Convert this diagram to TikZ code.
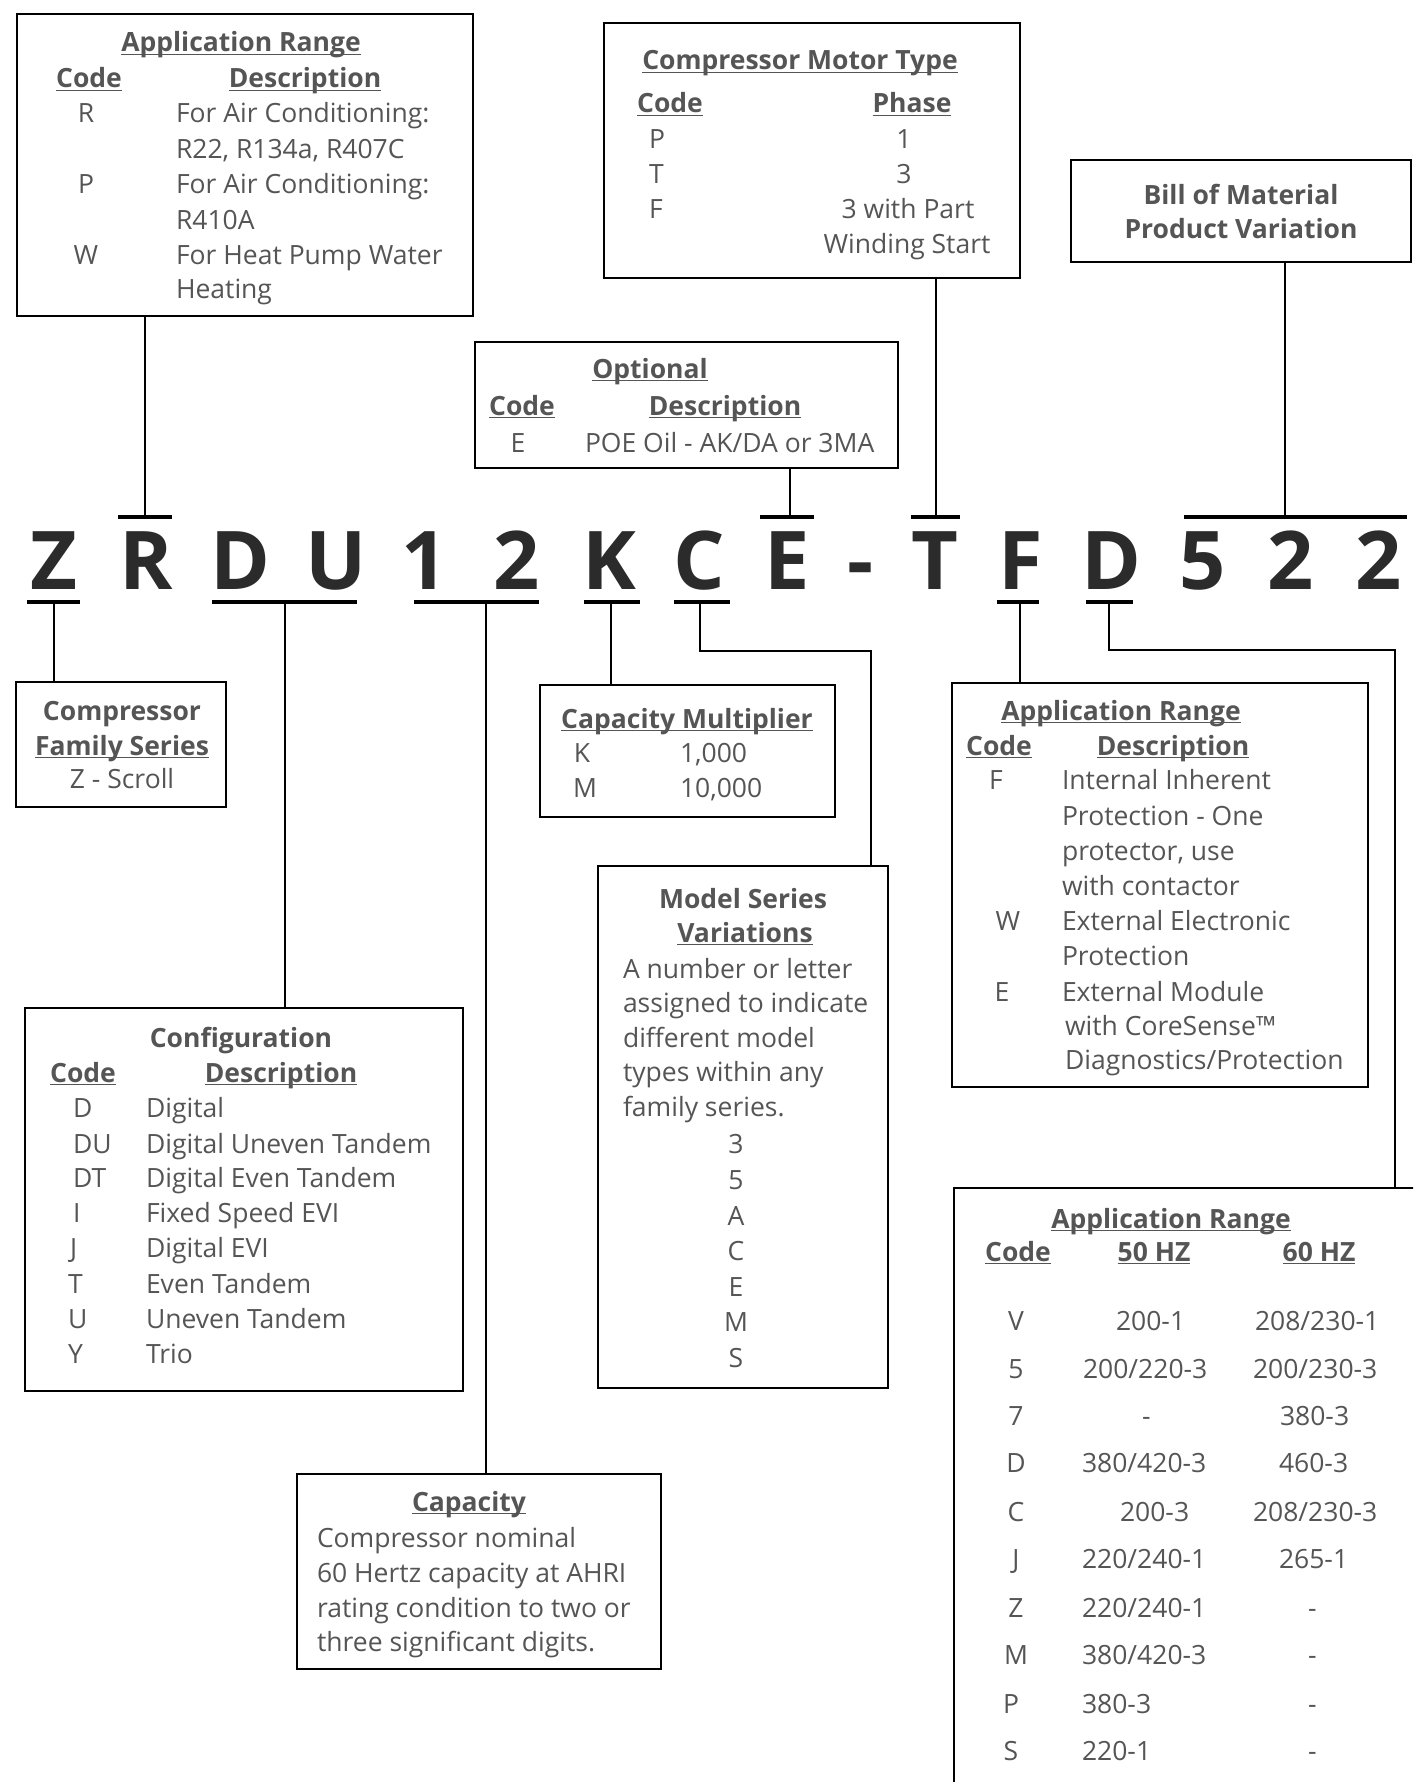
\documentclass[tikz,border=0pt]{standalone}
\usepackage{fontspec}
\setmainfont{Open Sans}
\definecolor{txtc}{HTML}{555555}
\definecolor{ltc}{HTML}{2B2B2B}
\newsavebox\ulbox
\newcommand\ulx[1]{\sbox\ulbox{#1}\rlap{\rule[-3pt]{\wd\ulbox}{1.4pt}}\usebox\ulbox}
\newcommand\bigletter[3]{\node[big] (#1) at (#2,589) {#3};}
\tikzset{
 boxst/.style={draw=black, line width=2.6pt, inner sep=0pt, outer sep=0pt, anchor=north west},
 conn/.style={line width=2.4pt, draw=black},
 barst/.style={line width=3.2pt, draw=black},
 tx/.style={inner sep=0pt, outer sep=0pt, text=txtc, font=\fontsize{26.5}{30}\selectfont, anchor=base},
 tl/.style={tx, anchor=base west},
 hd/.style={tx, font=\fontsize{26.5}{30}\selectfont\bfseries},
 big/.style={inner sep=0pt, outer sep=0pt, anchor=base, text=ltc, font=\fontsize{81}{81}\selectfont\bfseries},
}
\begin{document}
\begin{tikzpicture}[x=1pt,y=-1pt]
\clip (0,0) rectangle (1413,1782);
\fill[white] (0,0) rectangle (1413,1782);

% ---------------- boxes
\node[boxst, minimum width=456, minimum height=302] (appAC) at (17,14) {};
\node[boxst, minimum width=416, minimum height=255] (motor) at (604,23) {};
\node[boxst, minimum width=340, minimum height=102] (bill) at (1071,160) {};
\node[boxst, minimum width=423, minimum height=126] (opt) at (475,342) {};
\node[boxst, minimum width=210, minimum height=125] (fam) at (16,682) {};
\node[boxst, minimum width=295, minimum height=132] (mult) at (540,685) {};
\node[boxst, minimum width=290, minimum height=522] (model) at (598,866) {};
\node[boxst, minimum width=416, minimum height=404] (appF) at (952,683) {};
\node[boxst, minimum width=438, minimum height=383] (config) at (25,1008) {};
\node[boxst, minimum width=364, minimum height=195] (cap) at (297,1474) {};
\node[boxst, minimum width=600, minimum height=700] (appHz) at (954,1188) {};

% ---------------- big code letters
\bigletter{lZ}{54}{Z}
\bigletter{lR}{146}{R}
\bigletter{lD}{240}{D}
\bigletter{lU}{336}{U}
\bigletter{l1}{425}{1}
\bigletter{l2}{517}{2}
\bigletter{lK}{609}{K}
\bigletter{lC}{699}{C}
\bigletter{lE}{787}{E}
\bigletter{lh}{861}{-}
\bigletter{lT}{935}{T}
\bigletter{lF}{1021}{F}
\bigletter{lD2}{1111}{D}
\bigletter{l5}{1203}{5}
\bigletter{l22}{1291}{2}
\bigletter{l23}{1379}{2}

% ---------------- bars and connectors above
\coordinate (tR) at (145,517);
\coordinate (tE) at (790,517);
\coordinate (tT) at (936,517);
\coordinate (t522) at (1285,517);
\draw[barst] ([xshift=-27pt]tR) -- ([xshift=27pt]tR);
\draw[barst] ([xshift=-30pt]tE) -- ([xshift=24pt]tE);
\draw[barst] ([xshift=-25pt]tT) -- ([xshift=24pt]tT);
\draw[barst] ([xshift=-101pt]t522) -- ([xshift=122pt]t522);
\draw[conn] (appAC.south -| tR) -- (tR);
\draw[conn] (opt.south -| tE) -- (tE);
\draw[conn] (motor.south -| tT) -- (tT);
\draw[conn] (bill.south -| t522) -- (t522);

% ---------------- bars and connectors below
\coordinate (bZ) at (54,602);
\coordinate (bDU) at (285,602);
\coordinate (b12) at (486,602);
\coordinate (bK) at (611,602);
\coordinate (bC) at (700,602);
\coordinate (bF) at (1020,602);
\coordinate (bD) at (1109,602);
\coordinate (cC) at (871,651);
\coordinate (cD) at (1395,650);
\draw[barst] ([xshift=-27pt]bZ) -- ([xshift=26pt]bZ);
\draw[barst] ([xshift=-73pt]bDU) -- ([xshift=72pt]bDU);
\draw[barst] ([xshift=-72pt]b12) -- ([xshift=53pt]b12);
\draw[barst] ([xshift=-27pt]bK) -- ([xshift=29pt]bK);
\draw[barst] ([xshift=-26pt]bC) -- ([xshift=30pt]bC);
\draw[barst] ([xshift=-23pt]bF) -- ([xshift=19pt]bF);
\draw[barst] ([xshift=-23pt]bD) -- ([xshift=24pt]bD);
\draw[conn] (bZ) -- (fam.north -| bZ);
\draw[conn] (bDU) -- (config.north -| bDU);
\draw[conn] (b12) -- (cap.north -| b12);
\draw[conn] (bK) -- (mult.north -| bK);
\draw[conn] (bC) |- (cC) -- (model.north -| cC);
\draw[conn] (bF) -- (appF.north -| bF);
\draw[conn] (bD) |- (cD) -- (appHz.north -| cD);

% ---------------- Application Range (top left)
\node[hd] (a0) at (241,52) {\ulx{Application Range}};
\node[hd] (a1) at (89,88) {\ulx{Code}};
\node[hd] (a2) at (305,88) {\ulx{Description}};
\node[tx] (a3) at (86,123) {R};
\node[tx] (a4) at (86,193) {P};
\node[tx] (a5) at (86,264) {W};
\node[tl] (a6) at (176,123) {For Air Conditioning:};
\node[tl] (a7) at (176,158) {R22, R134a, R407C};
\node[tl] (a8) at (176,193) {For Air Conditioning:};
\node[tl] (a9) at (176,229) {R410A};
\node[tl] (a10) at (176,264) {For Heat Pump Water};
\node[tl] (a11) at (176,298) {Heating};

% ---------------- Compressor Motor Type
\node[hd] (m0) at (800,70) {\ulx{Compressor Motor Type}};
\node[hd] (m1) at (670,113) {\ulx{Code}};
\node[hd] (m2) at (912,113) {\ulx{Phase}};
\node[tl] (m3) at (649,148) {P};
\node[tl] (m4) at (649,183) {T};
\node[tl] (m5) at (649,218) {F};
\node[tx] (m6) at (904,148) {1};
\node[tx] (m7) at (904,183) {3};
\node[tx] (m8) at (908,218) {3 with Part};
\node[tx] (m9) at (907,253) {Winding Start};

% ---------------- Bill of Material
\node[hd] (b0) at (1241,204) {Bill of Material};
\node[hd] (b1) at (1241,238) {Product Variation};

% ---------------- Optional
\node[hd] (o0) at (650,378) {\ulx{Optional}};
\node[hd] (o1) at (522,415) {\ulx{Code}};
\node[hd] (o2) at (725,415) {\ulx{Description}};
\node[tx] (o3) at (518,452) {E};
\node[tl] (o4) at (585,452) {POE Oil - AK/DA or 3MA};

% ---------------- Compressor Family Series
\node[hd] (f0) at (122,720) {Compressor};
\node[hd] (f1) at (122,755) {\ulx{Family Series}};
\node[tx] (f2) at (122,788) {Z - Scroll};

% ---------------- Capacity Multiplier
\node[hd] (k0) at (687,728) {\ulx{Capacity Multiplier}};
\node[tx] (k1) at (582,762) {K};
\node[tx] (k2) at (585,797) {M};
\node[tl] (k3) at (680,762) {1,000};
\node[tl] (k4) at (680,797) {10,000};

% ---------------- Model Series Variations
\node[hd] (s0) at (743,908) {Model Series};
\node[hd] (s1) at (745,942) {\ulx{Variations}};
\node[tl] (s2) at (623,978) {A number or letter};
\node[tl] (s3) at (623,1012) {assigned to indicate};
\node[tl] (s4) at (623,1047) {different model};
\node[tl] (s5) at (623,1081) {types within any};
\node[tl] (s6) at (623,1116) {family series.};
\node[tx] (s7) at (736,1153) {3};
\node[tx] (s8) at (736,1189) {5};
\node[tx] (s9) at (736,1225) {A};
\node[tx] (s10) at (736,1260) {C};
\node[tx] (s11) at (736,1296) {E};
\node[tx] (s12) at (736,1331) {M};
\node[tx] (s13) at (736,1367) {S};

% ---------------- Application Range (protection)
\node[hd] (p0) at (1121,720) {\ulx{Application Range}};
\node[hd] (p1) at (999,755) {\ulx{Code}};
\node[hd] (p2) at (1173,755) {\ulx{Description}};
\node[tx] (p3) at (996,789) {F};
\node[tx] (p4) at (1008,930) {W};
\node[tx] (p5) at (1002,1001) {E};
\node[tl] (p6) at (1062,789) {Internal Inherent};
\node[tl] (p7) at (1062,825) {Protection - One};
\node[tl] (p8) at (1062,860) {protector, use};
\node[tl] (p9) at (1062,895) {with contactor};
\node[tl] (p10) at (1062,930) {External Electronic};
\node[tl] (p11) at (1062,965) {Protection};
\node[tl] (p12) at (1062,1001) {External Module};
\node[tl] (p13) at (1065,1035) {with CoreSense™};
\node[tl] (p14) at (1065,1069) {Diagnostics/Protection};

% ---------------- Configuration
\node[hd] (c0) at (241,1047) {Configuration};
\node[hd] (c1) at (83,1082) {\ulx{Code}};
\node[hd] (c2) at (281,1082) {\ulx{Description}};
\node[tl] (c3) at (73,1117) {D};
\node[tl] (c4) at (73,1153) {DU};
\node[tl] (c5) at (73,1187) {DT};
\node[tl] (c6) at (73,1222) {I};
\node[tl] (c7) at (70,1257) {J};
\node[tl] (c8) at (68,1293) {T};
\node[tl] (c9) at (68,1328) {U};
\node[tl] (c10) at (68,1363) {Y};
\node[tl] (c11) at (146,1117) {Digital};
\node[tl] (c12) at (146,1153) {Digital Uneven Tandem};
\node[tl] (c13) at (146,1187) {Digital Even Tandem};
\node[tl] (c14) at (146,1222) {Fixed Speed EVI};
\node[tl] (c15) at (146,1257) {Digital EVI};
\node[tl] (c16) at (146,1293) {Even Tandem};
\node[tl] (c17) at (146,1328) {Uneven Tandem};
\node[tl] (c18) at (146,1363) {Trio};

% ---------------- Capacity
\node[hd] (q0) at (469,1511) {\ulx{Capacity}};
\node[tl] (q1) at (317,1547) {Compressor nominal};
\node[tl] (q2) at (317,1582) {60 Hertz capacity at AHRI};
\node[tl] (q3) at (317,1617) {rating condition to two or};
\node[tl] (q4) at (317,1651) {three significant digits.};

% ---------------- Application Range (voltage)
\node[hd] (v0) at (1171,1228) {\ulx{Application Range}};
\node[hd] (v1) at (1018,1261) {\ulx{Code}};
\node[hd] (v2) at (1154,1261) {\ulx{50 HZ}};
\node[hd] (v3) at (1319,1261) {\ulx{60 HZ}};
\node[tx] (v4) at (1016,1330) {V};
\node[tx] (v5) at (1016,1378) {5};
\node[tx] (v6) at (1016,1425) {7};
\node[tx] (v7) at (1016,1472) {D};
\node[tx] (v8) at (1016,1521) {C};
\node[tx] (v9) at (1016,1568) {J};
\node[tx] (v10) at (1016,1617) {Z};
\node[tx] (v11) at (1016,1664) {M};
\node[tx] (v12) at (1011,1713) {P};
\node[tx] (v13) at (1011,1760) {S};
\node[tl] (v14) at (1116,1330) {200-1};
\node[tl] (v15) at (1083,1378) {200/220-3};
\node[tl] (v16) at (1142,1425) {-};
\node[tl] (v17) at (1082,1472) {380/420-3};
\node[tl] (v18) at (1120,1521) {200-3};
\node[tl] (v19) at (1082,1568) {220/240-1};
\node[tl] (v20) at (1082,1617) {220/240-1};
\node[tl] (v21) at (1082,1664) {380/420-3};
\node[tl] (v22) at (1082,1713) {380-3};
\node[tl] (v23) at (1082,1760) {220-1};
\node[tl] (v24) at (1255,1330) {208/230-1};
\node[tl] (v25) at (1253,1378) {200/230-3};
\node[tl] (v26) at (1280,1425) {380-3};
\node[tl] (v27) at (1279,1472) {460-3};
\node[tl] (v28) at (1253,1521) {208/230-3};
\node[tl] (v29) at (1279,1568) {265-1};
\node[tl] (v30) at (1308,1617) {-};
\node[tl] (v31) at (1308,1664) {-};
\node[tl] (v32) at (1308,1713) {-};
\node[tl] (v33) at (1308,1760) {-};
\end{tikzpicture}
\end{document}
